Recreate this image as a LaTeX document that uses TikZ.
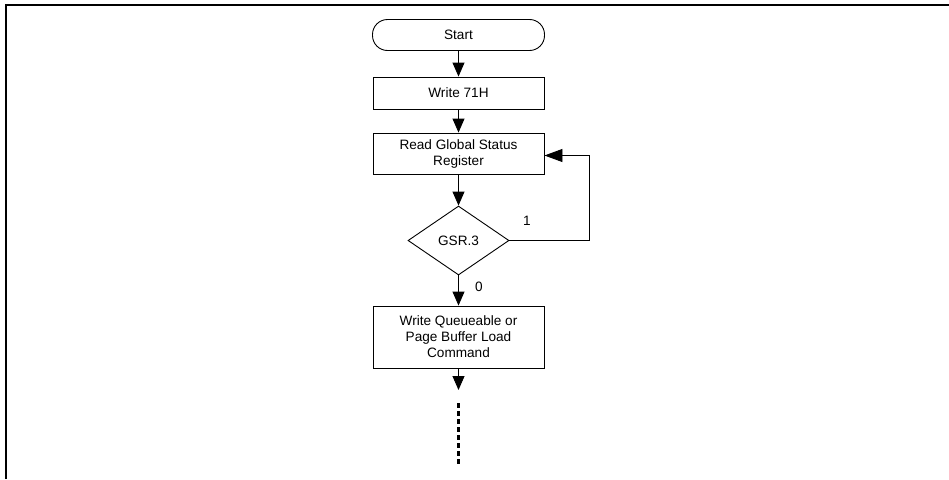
\documentclass[tikz,border=0pt]{standalone}
\usepackage{fontspec}
\setmainfont{Liberation Sans}
\usetikzlibrary{arrows.meta,shapes.geometric,calc}
\begin{document}
\begin{tikzpicture}[x=1pt,y=-1pt,
  every node/.style={font=\fontsize{13.6}{16}\selectfont},
  box/.style={draw,line width=0.9pt,minimum width=171pt,align=center,inner sep=0pt},
  term/.style={draw,line width=0.9pt,rounded corners=15pt,minimum width=172pt,minimum height=31pt,inner sep=0pt},
  dec/.style={draw,line width=0.9pt,diamond,minimum width=101pt,minimum height=69pt,inner sep=0pt},
  flow/.style={line width=0.9pt,-{Triangle[length=14pt,width=12pt]}},
  loopflow/.style={line width=0.9pt,-{Triangle[length=18pt,width=13pt]}},
  lbl/.style={inner sep=0pt},
  frame/.style={line width=2pt}]
\useasboundingbox (0,0) rectangle (949,479);
\draw[frame] (6,479) -- (6,5) -- (949,5);
\node[term] (start) at (458.5,35) {Start};
\node[box,minimum height=32pt] (w71) at (458.5,93) {Write 71H};
\node[box,minimum height=41pt] (read) at (458.5,153.5) {Read Global Status\\Register};
\node[dec] (gsr) at (458.5,240.5) {GSR.3};
\node[box,minimum height=62pt] (wq) at (458.5,337) {Write Queueable or\\Page Buffer Load\\Command};
\coordinate (tip) at (458.5,390);
\coordinate (ds) at (458.5,403);
\coordinate (de) at (458.5,464);
\coordinate (rx) at (589,240.5);
\draw[flow] (start) -- (w71);
\draw[flow] (w71) -- (read);
\draw[flow] (read) -- (gsr);
\draw[flow] (gsr) -- (wq);
\draw[flow] (wq) -- (tip);
\draw[loopflow] (gsr.east) -- (rx) |- ($(read.east)+(0,2)$);
\draw[line width=3pt,dash pattern=on 5pt off 3pt] (ds) -- (de);
\node[lbl] (one) at (527,221) {1};
\node[lbl] (zero) at (479,287) {0};
\end{tikzpicture}
\end{document}
